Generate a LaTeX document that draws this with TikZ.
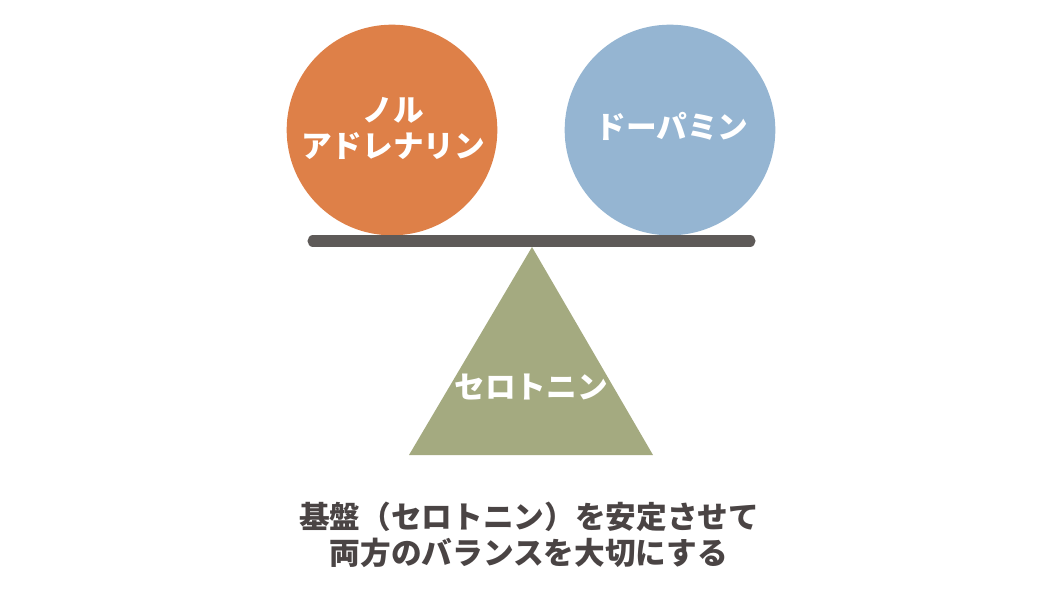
\documentclass[tikz,border=0pt]{standalone}
\usepackage{fontspec}
\setmainfont{Noto Sans CJK JP}
\definecolor{orangec}{RGB}{222,128,72}
\definecolor{bluec}{RGB}{149,181,210}
\definecolor{greenc}{RGB}{164,170,128}
\definecolor{barc}{RGB}{94,90,88}
\definecolor{textc}{RGB}{74,68,68}
\begin{document}
\begin{tikzpicture}[x=0.75pt,y=-0.75pt,
  lbl/.style={text=white,font=\bfseries\fontsize{23}{27}\selectfont,align=center,inner sep=0pt},
  ball/.style={circle,inner sep=0pt,minimum size=158pt}]
\useasboundingbox (0,0) rectangle (1060,596);
\node[ball,fill=orangec] (nor) at (392,130) {};
\node[ball,fill=bluec] (dop) at (670,130) {};
\draw[barc,line width=8.3pt,line cap=round] (313,241) coordinate (bl) -- (750,241) coordinate (br);
\fill[greenc] (532,247) coordinate (apex) -- (653,455) coordinate (bR) -- (409,455) coordinate (bL) -- cycle;
\node[lbl] (norl) at (393,128) {ノル\\アドレナリン};
\node[lbl] (dopl) at (672,126) {ドーパミン};
\node[lbl] (serl) at (531,387) {セロトニン};
\node[lbl,text=textc] (cap) at (529,535) {基盤（セロトニン）を安定させて\\両方のバランスを大切にする};
\end{tikzpicture}
\end{document}
